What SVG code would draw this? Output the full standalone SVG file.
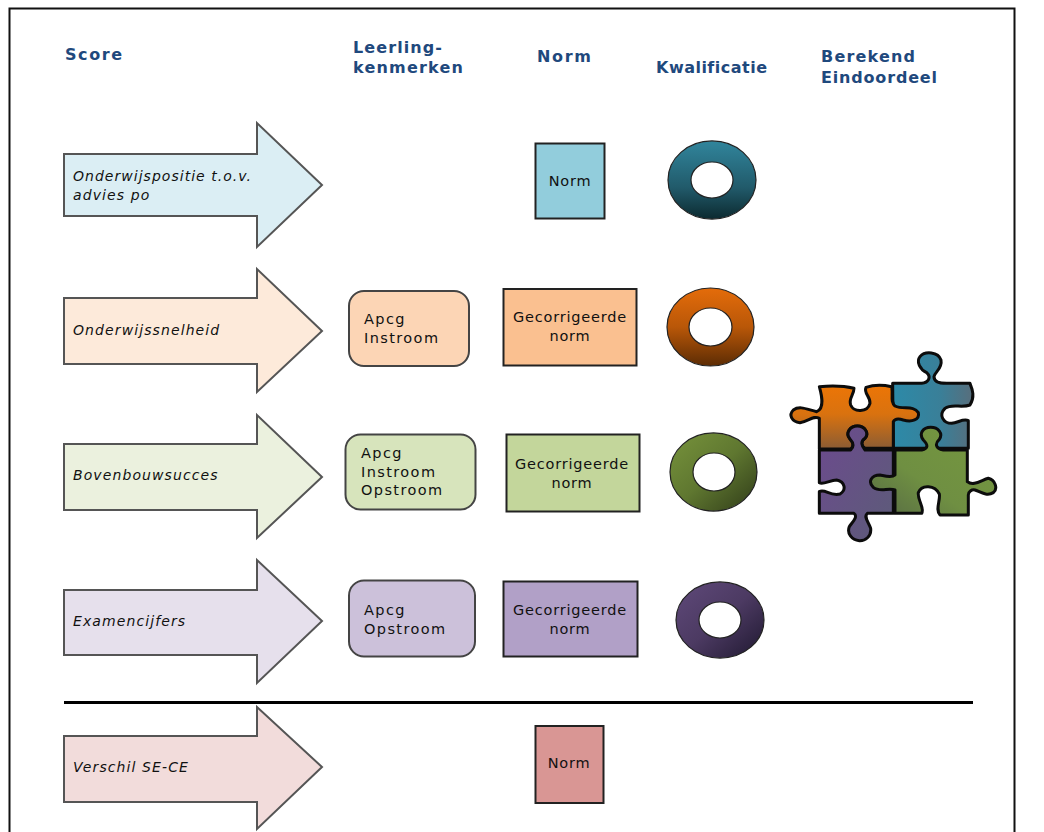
<svg xmlns="http://www.w3.org/2000/svg" width="1044" height="832" viewBox="0 0 1044 832">
<style>
text{font-family:"DejaVu Sans","Liberation Sans",sans-serif;fill:#111}
.h{font-weight:700;font-size:16px;fill:#1f497d;letter-spacing:1px}
.i{font-style:italic;font-size:14px;letter-spacing:1.1px}
.n{font-size:14.500px;letter-spacing:.8px}
.l{font-size:14.500px;letter-spacing:1.400px}
.c{text-anchor:middle}
.arrow{stroke:#555;stroke-width:2}
.box{stroke:#222;stroke-width:2}
.rr{stroke:#444;stroke-width:2}
.ring{stroke:#222;stroke-width:1.200;fill-rule:evenodd}
.pz{stroke:#0c0c0c;stroke-width:9;stroke-linejoin:round}
</style>
<defs>
<linearGradient id="gT" x1="0" y1="0" x2="0" y2="1"><stop offset="0" stop-color="#31859c"/><stop offset=".6" stop-color="#215a6a"/><stop offset="1" stop-color="#0c2a30"/></linearGradient>
<linearGradient id="gO" x1="0" y1="0" x2="0" y2="1"><stop offset="0" stop-color="#e46c0a"/><stop offset=".5" stop-color="#b95708"/><stop offset="1" stop-color="#5c2c04"/></linearGradient>
<linearGradient id="gG" x1="0" y1="0" x2="1" y2="1"><stop offset="0" stop-color="#77933c"/><stop offset=".5" stop-color="#5f7730"/><stop offset="1" stop-color="#2f3b18"/></linearGradient>
<linearGradient id="gP" x1="0" y1="0" x2="1" y2="1"><stop offset="0" stop-color="#5f497a"/><stop offset=".5" stop-color="#4c3a62"/><stop offset="1" stop-color="#1f1830"/></linearGradient>
<linearGradient id="pO" x1="0" y1="0" x2="0" y2="1"><stop offset="0" stop-color="#ec7506"/><stop offset=".45" stop-color="#d9720f"/><stop offset="1" stop-color="#8a5c34"/></linearGradient>
<linearGradient id="pT" x1="0" y1="0" x2="1" y2="0"><stop offset="0" stop-color="#2c8aa8"/><stop offset=".6" stop-color="#3a7f98"/><stop offset="1" stop-color="#586e7c"/></linearGradient>
<linearGradient id="pP" x1="0" y1="0" x2="1" y2="1"><stop offset="0" stop-color="#6c4a8e"/><stop offset="1" stop-color="#5c5c78"/></linearGradient>
<linearGradient id="pG" x1="1" y1="0" x2="0" y2="1"><stop offset="0" stop-color="#76983f"/><stop offset=".6" stop-color="#6f8f42"/><stop offset="1" stop-color="#566a44"/></linearGradient>
</defs>
<rect width="1044" height="832" fill="#fff"/>
<path id="frame" d="M9.500 840V8.500H1014.500V840" fill="none" stroke="#111" stroke-width="2"/>
<g id="headers">
<text class="h" x="65" y="60" textLength="58">Score</text>
<text class="h" x="353" y="53" textLength="90">Leerling-</text>
<text class="h" x="353" y="73" textLength="111">kenmerken</text>
<text class="h" x="537" y="62" textLength="55">Norm</text>
<text class="h" x="656" y="73" textLength="112">Kwalificatie</text>
<text class="h" x="821" y="62" textLength="95">Berekend</text>
<text class="h" x="821" y="83" textLength="117">Eindoordeel</text>
</g>
<g id="arrow1"><path class="arrow" fill="#dbeef4" d="M64 154H257V123L322 185L257 247V216H64Z"/><text class="i" x="73" y="181" textLength="179">Onderwijspositie t.o.v.</text><text class="i" x="73" y="200">advies po</text></g>
<g id="arrow2"><path class="arrow" fill="#fdeada" d="M64 298H257V269L322 331L257 392V364H64Z"/><text class="i" x="73" y="335">Onderwijssnelheid</text></g>
<g id="arrow3"><path class="arrow" fill="#ebf1de" d="M64 444H257V415L322 477L257 538V510H64Z"/><text class="i" x="73" y="480">Bovenbouwsucces</text></g>
<g id="arrow4"><path class="arrow" fill="#e6e0ec" d="M64 590H257V560L322 621L257 683V655H64Z"/><text class="i" x="73" y="626">Examencijfers</text></g>
<g id="arrow5"><path class="arrow" fill="#f2dcdb" d="M64 736H257V707L322 767L257 829V802H64Z"/><text class="i" x="73" y="772">Verschil SE-CE</text></g>
<g id="kenmerk1"><rect class="rr" x="349" y="291" width="120" height="75" rx="15" fill="#fcd5b5"/><text class="l" x="364" y="324">Apcg</text><text class="l" x="364" y="343">Instroom</text></g>
<g id="kenmerk2"><rect class="rr" x="345.500" y="434.500" width="130" height="75" rx="15" fill="#d7e4bc"/><text class="l" x="361" y="458">Apcg</text><text class="l" x="361" y="477">Instroom</text><text class="l" x="361" y="495">Opstroom</text></g>
<g id="kenmerk3"><rect class="rr" x="349" y="580.500" width="126" height="76" rx="15" fill="#ccc1da"/><text class="l" x="364" y="615">Apcg</text><text class="l" x="364" y="634">Opstroom</text></g>
<g id="norm1"><rect class="box" x="535.500" y="143.500" width="69" height="75" fill="#92cddc"/><text class="n c" x="570" y="186">Norm</text></g>
<g id="norm2"><rect class="box" x="503.500" y="289" width="133" height="76.500" fill="#fac090"/><text class="n c" x="570" y="322">Gecorrigeerde</text><text class="n c" x="570" y="341">norm</text></g>
<g id="norm3"><rect class="box" x="506.500" y="434.500" width="133" height="77" fill="#c3d69b"/><text class="n c" x="572" y="469">Gecorrigeerde</text><text class="n c" x="572" y="488">norm</text></g>
<g id="norm4"><rect class="box" x="503.500" y="581.500" width="134" height="75" fill="#b1a0c7"/><text class="n c" x="570" y="615">Gecorrigeerde</text><text class="n c" x="570" y="634">norm</text></g>
<g id="norm5"><rect class="box" x="535.500" y="726" width="68" height="77" fill="#d99694"/><text class="n c" x="569" y="768">Norm</text></g>
<g id="ring1"><path class="ring" fill="url(#gT)" d="M668 180a44 39 0 1 0 88 0a44 39 0 1 0-88 0ZM691 180a21 18 0 1 0 42 0a21 18 0 1 0-42 0Z"/></g>
<g id="ring2"><path class="ring" fill="url(#gO)" d="M667 327a43.500 39 0 1 0 87 0a43.500 39 0 1 0-87 0ZM689 327a21.500 19 0 1 0 43 0a21.500 19 0 1 0-43 0Z"/></g>
<g id="ring3"><path class="ring" fill="url(#gG)" d="M670 472a43.500 39 0 1 0 87 0a43.500 39 0 1 0-87 0ZM693 472a21 19 0 1 0 42 0a21 19 0 1 0-42 0Z"/></g>
<g id="ring4"><path class="ring" fill="url(#gP)" d="M676 620a44 38 0 1 0 88 0a44 38 0 1 0-88 0ZM699 620a21 18 0 1 0 42 0a21 18 0 1 0-42 0Z"/></g>
<g id="connectors"><line x1="64" y1="702.500" x2="973" y2="702.500" stroke="#000" stroke-width="3"/></g>
<g id="puzzle" transform="translate(780 340) scale(.3333)">
<path class="pz" fill="url(#pT)" d="M338 130H425C445 128 455 112 440 98C420 88 408 65 420 50C435 32 475 35 483 60C488 85 465 95 462 110C462 125 480 130 500 130H570C578 150 585 170 570 195C545 205 515 190 495 205C475 225 490 250 515 250C535 248 550 235 565 242V325H340Z"/>
<path class="pz" fill="url(#pO)" d="M118 140C150 137 190 137 222 145C222 165 205 175 212 195C222 218 262 218 270 190C272 170 250 160 258 142C280 135 310 135 335 140C340 165 330 185 345 198C370 210 400 195 415 218C420 240 395 247 370 240C355 235 345 235 340 245V325H255C245 318 240 305 255 295C268 280 255 258 232 258C210 258 195 280 210 297C222 310 222 320 212 327H118V235C100 225 85 245 60 248C35 245 25 225 40 210C60 195 85 210 110 215C135 205 125 165 118 140Z"/>
<path class="pz" fill="url(#pP)" d="M118 330H212C222 320 222 310 210 297C195 280 210 258 232 258C255 258 268 280 255 295C240 305 245 318 255 330H340V520H262C250 530 265 545 272 565C275 590 255 603 238 602C215 600 200 580 208 560C218 545 235 530 222 520H118V455C135 445 150 470 180 462C200 450 195 425 170 420C150 420 130 435 118 428Z"/>
<path class="pz" fill="url(#pG)" d="M345 330H425C445 325 445 315 430 300C415 280 430 262 452 262C475 262 490 280 478 298C465 310 465 325 490 330H562V425C580 440 605 420 625 415C645 420 655 445 640 458C620 470 600 455 585 450C575 448 565 455 565 465V525H480C465 510 482 480 478 462C465 435 425 432 415 458C412 480 435 505 425 520H345V450C325 442 300 458 280 442C262 425 275 405 300 405C315 408 335 415 345 405Z"/>
</g>
</svg>
